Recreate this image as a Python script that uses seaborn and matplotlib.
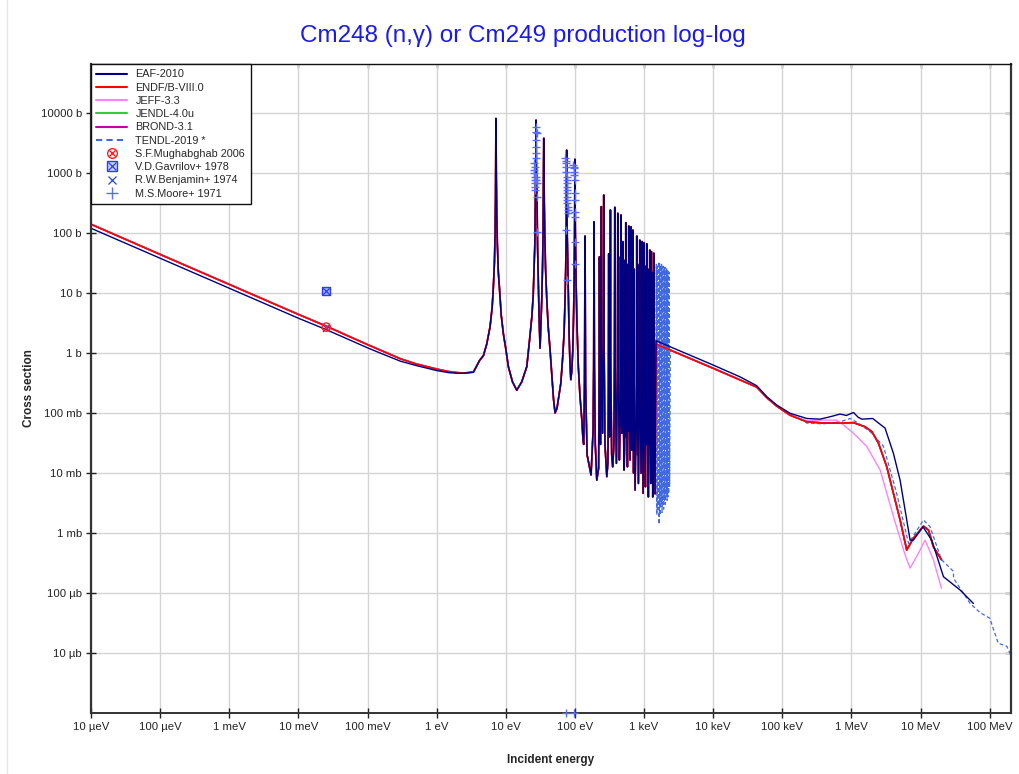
import matplotlib
matplotlib.use("Agg")
import numpy as np
import pandas as pd
import matplotlib.pyplot as plt
import seaborn as sns
from matplotlib.lines import Line2D
from matplotlib.ticker import FixedLocator, FixedFormatter, NullLocator

# ---------------- data (energy in eV, cross section in barns) ----------------
thermal_E = [1e-5, 1e-4, 1e-3, 1e-2, 0.0253, 0.1, 0.152, 0.3, 0.5, 1.0, 1.5, 2.0, 2.5]
eaf_thermal_xs = [120, 38, 12.0, 3.8, 2.45, 1.22, 1.0, 0.73, 0.62, 0.51, 0.47, 0.46, 0.46]
endf_thermal_xs = [140, 44, 13.9, 4.4, 2.8, 1.38, 1.12, 0.80, 0.66, 0.54, 0.49, 0.47, 0.465]

# resolved resonance region (common to the evaluations)
# first resonance (7.2 eV)
resA_E = [3.4, 4.2, 4.74, 5.3, 5.92, 6.35, 6.61, 6.85, 7.0, 7.1,
          7.16, 7.2, 7.24, 7.3, 7.4, 7.55, 7.8, 8.07, 8.6, 9.22,
          10.0, 10.9, 12.5, 14.4, 17.0]
resA_xs = [0.48, 0.76, 0.9, 1.41, 2.74, 5.8, 12.7, 32.6, 100, 400,
           2000, 8100, 3000, 800, 200, 65, 22, 12.7, 4.2, 2.1,
           1.17, 0.59, 0.33, 0.24, 0.33]
# 27.4 eV and 35.4 eV resonances
resB_E = [20.1, 22.0, 23.8, 24.9, 25.7, 26.3, 26.8, 27.1, 27.3, 27.4,
          27.5, 27.7, 28.3, 28.8, 29.6, 30.3, 31.3, 32.2, 33.1, 34.0,
          34.6, 35.0, 35.2, 35.4, 35.6, 36.0, 36.6, 37.6, 39.2, 41.0,
          43.7, 47.0, 49.0]
resB_xs = [0.59, 1.6, 4.0, 9.0, 27, 65, 355, 1200, 4000, 7600,
           4000, 1200, 355, 60, 14.5, 4.0, 1.2, 3.0, 7.6, 28,
           100, 600, 1500, 3800, 1500, 350, 100, 25, 7.6, 2.8,
           1.12, 0.35, 0.17]
# 76 eV and 100 eV resonances
resC_E = [51.6, 55.0, 58.5, 62.4, 66.5, 69.6, 72.0, 73.6, 74.8, 75.6,
          76.0, 76.4, 77.2, 78.9, 80.5, 82.3, 84.5, 87.1, 90.0, 93.1,
          95.5, 97.3, 98.8, 99.6, 100, 100.4, 101.5, 104, 107, 112,
          118, 126, 131]
resC_xs = [0.10, 0.12, 0.19, 0.31, 0.85, 2.1, 8.0, 27, 110, 600,
           2400, 600, 110, 27, 6.5, 2.1, 0.75, 0.36, 0.5, 1.12,
           4.0, 14.5, 90, 500, 1690, 500, 90, 14.5, 3.0, 0.59,
           0.2, 0.076, 0.035]
# dense resonances 140 eV - 1.4 keV
resD_E = [134, 137.5, 140, 142.5, 150, 171,
          183, 186.5, 189, 191.5, 197, 207,
          220, 223.5, 226, 228.5, 234,
          238.5, 241, 243.5, 250,
          258, 261, 264, 272, 289,
          300, 305, 308, 311, 318,
          323, 326, 329, 340, 352,
          366, 373, 377, 381, 398,
          412, 417, 422, 439,
          449, 452, 455, 458, 460,
          461, 465, 469, 481,
          488, 492, 496, 514,
          523, 525.5, 528, 530.5, 536,
          540, 544, 548, 574,
          581, 583, 585, 587, 594,
          597, 601, 605, 628,
          644, 649, 654, 670,
          682, 687, 692, 705,
          716, 718, 720, 722, 741,
          778, 784, 790, 806,
          808, 810, 812, 828,
          861, 867, 873, 905,
          930, 936, 942, 968,
          994, 1000, 1006, 1045,
          1055, 1058, 1061, 1064, 1070,
          1088, 1094, 1100, 1153,
          1172, 1177, 1180, 1183, 1190,
          1202, 1209, 1216, 1250,
          1269, 1276, 1283, 1300,
          1315, 1318, 1321, 1324, 1336,
          1374, 1382, 1390, 1440]
resD_xs = [0.03, 0.3, 89, 0.3, 0.02, 0.0093,
           0.05, 0.6, 154, 0.6, 0.03, 0.0076,
           0.012, 0.3, 40, 0.3, 0.03,
           1.0, 275, 1.0, 0.046,
           1.5, 430, 1.5, 0.03, 0.0087,
           0.015, 0.3, 45, 0.3, 0.04,
           0.8, 242, 0.8, 0.02, 0.0127,
           0.03, 0.7, 268, 0.7, 0.0145,
           0.6, 213, 0.6, 0.0165,
           0.05, 0.4, 40, 0.4, 0.06,
           0.5, 200, 0.5, 0.046,
           0.3, 72, 0.3, 0.0112,
           0.03, 0.3, 35, 0.3, 0.04,
           0.4, 149, 0.4, 0.0127,
           0.05, 0.3, 30, 0.3, 0.05,
           0.4, 131, 0.4, 0.0165,
           0.4, 127, 0.4, 0.024,
           0.35, 112, 0.35, 0.01,
           0.06, 0.3, 25, 0.3, 0.0052,
           0.3, 89, 0.3, 0.02,
           0.3, 30, 0.3, 0.0067,
           0.25, 76, 0.25, 0.0099,
           0.25, 72, 0.25, 0.0046,
           0.25, 69, 0.25, 0.0059,
           0.03, 0.25, 28, 0.25, 0.03,
           0.25, 66, 0.25, 0.004,
           0.03, 0.25, 25, 0.25, 0.03,
           0.2, 52, 0.2, 0.0067,
           0.2, 49, 0.2, 0.01,
           0.03, 0.2, 22, 0.2, 0.004,
           0.2, 46, 0.2, 0.0045]

# TENDL extends resonances further
tendl_res_E = [1500, 1530, 1560, 1590, 1620, 1649, 1680, 1706, 1735, 1760, 1790, 1820, 1841,
               1865, 1890, 1918, 1946, 1975, 2000, 2030, 2061, 2090, 2120, 2150, 2177, 2210,
               2240, 2270, 2301, 2340]
tendl_res_xs = [30, 0.002, 28, 0.0025, 33, 0.0014, 31, 0.002, 29, 0.003, 30, 0.0022, 27,
                0.003, 28, 0.0025, 26, 0.0035, 27, 0.003, 25, 0.004, 26, 0.0035, 24, 0.004,
                23, 0.0045, 22, 0.006]

# fast region
eaf_fast_E = [1490, 1e4, 2.45e4, 4.26e4, 5.96e4, 8.3e4, 1.29e5, 2.26e5, 3.52e5, 4.9e5, 6.84e5,
              8.46e5, 1.07e6, 1.25e6, 1.41e6, 2.03e6, 3.06e6, 4.04e6, 5.05e6, 5.97e6, 7.05e6,
              7.87e6, 1.08e7, 1.45e7, 2.14e7, 3.73e7, 5.8e7]
eaf_fast_xs = [1.6, 0.63, 0.40, 0.285, 0.187, 0.136, 0.099, 0.081, 0.079, 0.0865, 0.096,
               0.091, 0.102, 0.085, 0.079, 0.081, 0.056, 0.0213, 0.0076, 0.0024, 7.6e-4,
               7.6e-4, 1.27e-3, 7.6e-4, 1.87e-4, 1.12e-4, 6.7e-5]

endf_fast_E = [1490, 1e4, 2.45e4, 4.26e4, 5.96e4, 8.3e4, 1.29e5, 2.26e5, 3.93e5, 7.0e5, 1.07e6,
               1.57e6, 1.97e6, 2.45e6, 3.24e6, 4.04e6, 5.05e6, 6.3e6, 7.87e6, 1.1e7, 1.3e7,
               1.53e7, 2.0e7]
endf_fast_xs = [1.41, 0.556, 0.355, 0.27, 0.18, 0.13, 0.092, 0.0716, 0.068, 0.068, 0.069,
                0.059, 0.049, 0.0317, 0.0127, 4.6e-3, 1.65e-3, 5.2e-4, 8.2e-4, 1.3e-3, 1.12e-3,
                5.9e-4, 3.6e-4]

jeff_fast_E = [1490, 1e4, 2.45e4, 4.26e4, 5.96e4, 8.3e4, 1.29e5, 2.26e5, 3.93e5, 6.12e5, 7.64e5,
               1.07e6, 1.66e6, 2.6e6, 4.04e6, 5.97e6, 7.05e6, 9.3e6, 1.16e7, 1.53e7, 2.0e7]
jeff_fast_xs = [1.41, 0.556, 0.355, 0.27, 0.18, 0.13, 0.092, 0.074, 0.076, 0.076, 0.0635,
                0.046, 0.0278, 0.0112, 1.9e-3, 4.3e-4, 2.6e-4, 4.6e-4, 7.6e-4, 3.6e-4, 1.2e-4]

tendl_fast_E = [2400, 1e4, 2.45e4, 4.26e4, 8.3e4, 2.26e5, 3.93e5, 7.0e5, 9.55e5, 1.2e6, 1.86e6,
                2.9e6, 4.5e6, 6.7e6, 1.1e7, 1.37e7, 2.0e7, 2.98e7, 3.0e7, 5.2e7, 7.26e7, 1.0e8,
                1.33e8, 1.76e8, 2.0e8]
tendl_fast_xs = [1.12, 0.556, 0.355, 0.27, 0.13, 0.068, 0.066, 0.072, 0.081, 0.07, 0.049,
                 0.028, 4.6e-3, 6.7e-4, 1.65e-3, 1.27e-3, 3.6e-4, 2.3e-4, 1.75e-4, 6.7e-5,
                 4.7e-5, 3.8e-5, 1.45e-5, 1.3e-5, 9.5e-6]

# experimental points
mughabghab_E = [0.0253]
mughabghab_xs = [2.7]
gavrilov_E = [0.0253]
gavrilov_xs = [10.8]
benjamin_E = [0.0253]
benjamin_xs = [2.6]
moore_E = [25.2, 25.6, 25.9, 26.1, 26.3, 26.5, 26.6, 26.7, 26.8, 26.9, 27.0, 27.1, 27.2, 27.3,
           27.4, 27.5, 27.6, 27.8, 28.0, 28.2, 28.6,
           72.6, 73.5, 74.2, 74.8, 75.2, 75.6, 75.9, 76.1, 76.3, 76.6, 76.9, 77.2, 77.6,
           78.0, 78.6, 79.4, 80.0, 75.0, 76.0,
           94.0, 95.5, 96.5, 97.3, 98.0, 98.6, 99.2, 99.7, 100.2, 100.8, 101.5, 99.0,
           73.7, 97.2]
moore_xs = [1450, 1120, 990, 870, 760, 670, 590, 520, 1280, 870, 760, 1750, 2130, 2750,
            3550, 4880, 5900, 4580, 670, 400, 103,
            1750, 1580, 1450, 1280, 1050, 870, 760, 670, 590, 520, 460, 400, 355,
            312, 275, 242, 213, 112, 16.5,
            1360, 1280, 1200, 1050, 930, 760, 460, 355, 227, 187, 72, 31,
            1e-6, 1e-6]

# tick labels
x_ticks = [1e-5, 1e-4, 1e-3, 1e-2, 1e-1, 1e0, 1e1, 1e2, 1e3, 1e4, 1e5, 1e6, 1e7, 1e8]
x_labels = ['10 µeV', '100 µeV', '1 meV', '10 meV', '100 meV', '1 eV', '10 eV', '100 eV',
            '1 keV', '10 keV', '100 keV', '1 MeV', '10 MeV', '100 MeV']
y_ticks = [1e-5, 1e-4, 1e-3, 1e-2, 1e-1, 1e0, 1e1, 1e2, 1e3, 1e4]
y_labels = ['10 µb', '100 µb', '1 mb', '10 mb', '100 mb', '1 b', '10 b', '100 b',
            '1000 b', '10000 b']

# ---------------- assemble curves ----------------
res_E = resA_E + resB_E + resC_E + resD_E
res_xs = resA_xs + resB_xs + resC_xs + resD_xs
assert len(res_E) == len(res_xs)


def curve(name, tE, txs, fE, fxs, extraE=(), extraxs=()):
    E = list(tE) + list(res_E) + list(extraE) + list(fE)
    xs = list(txs) + list(res_xs) + list(extraxs) + list(fxs)
    return pd.DataFrame({"E": E, "xs": xs, "lib": name})


curves = {
    "JENDL-4.0u": curve("JENDL-4.0u", thermal_E, endf_thermal_xs, endf_fast_E, endf_fast_xs),
    "BROND-3.1": curve("BROND-3.1", thermal_E, endf_thermal_xs, endf_fast_E, endf_fast_xs),
    "TENDL-2019 *": curve("TENDL-2019 *", thermal_E, endf_thermal_xs, tendl_fast_E, tendl_fast_xs,
                          tendl_res_E, tendl_res_xs),
    "JEFF-3.3": curve("JEFF-3.3", thermal_E, endf_thermal_xs, jeff_fast_E, jeff_fast_xs),
    "ENDF/B-VIII.0": curve("ENDF/B-VIII.0", thermal_E, endf_thermal_xs, endf_fast_E, endf_fast_xs),
    "EAF-2010": curve("EAF-2010", thermal_E, eaf_thermal_xs, eaf_fast_E, eaf_fast_xs),
}
styles = {
    "JENDL-4.0u": dict(color="#33cc33", lw=1.2, z=2.0, ls="-"),
    "BROND-3.1": dict(color="#cc0099", lw=1.2, z=2.1, ls="-"),
    "TENDL-2019 *": dict(color="#4169e1", lw=0.9, z=2.15, ls=(0, (3, 2))),
    "JEFF-3.3": dict(color="#ff80ff", lw=1.0, z=2.2, ls="-"),
    "ENDF/B-VIII.0": dict(color="#ff0000", lw=1.2, z=2.3, ls="-"),
    "EAF-2010": dict(color="#000080", lw=1.0, z=2.5, ls="-"),
}

# ---------------- plot ----------------
sns.set_theme(style="white")
plt.rcParams['font.family'] = ['Liberation Sans', 'DejaVu Sans']

fig = plt.figure(figsize=(10.2, 7.74), dpi=100)
ax = fig.add_axes([91 / 1020, 1 - 713 / 774, (1011 - 91) / 1020, (713 - 64) / 774])
ax.set_xscale('log')
ax.set_yscale('log')

for name, df in curves.items():
    st = styles[name]
    sns.lineplot(data=df, x="E", y="xs", ax=ax, color=st["color"], linewidth=st["lw"],
                 linestyle=st["ls"], estimator=None, sort=False, legend=False, zorder=st["z"])

moore_c = "#5a6cff"
sns.scatterplot(x=moore_E, y=moore_xs, ax=ax, marker='+', s=30, color=moore_c, linewidth=1.0,
                zorder=3, clip_on=False, legend=False)
sns.scatterplot(x=benjamin_E, y=benjamin_xs, ax=ax, marker='x', s=25, color="#2040ff",
                linewidth=1.0, zorder=3, legend=False)
ax.scatter(gavrilov_E, gavrilov_xs, marker='s', s=36, facecolor="#a8b4ff", edgecolor="#2a3cff",
           linewidth=1.0, zorder=3.1)
ax.scatter(gavrilov_E, gavrilov_xs, marker='x', s=22, color="#2a3cff", linewidth=0.9, zorder=3.2)
ax.scatter(mughabghab_E, mughabghab_xs, marker='o', s=36, facecolor="none", edgecolor="#ff2020",
           linewidth=1.0, zorder=3.3)
ax.scatter(mughabghab_E, mughabghab_xs, marker='x', s=18, color="#ff2020", linewidth=0.9,
           zorder=3.4)

ax.set_xlim(1e-5, 2.03e8)
ax.set_ylim(1e-6, 6.56e4)

ax.xaxis.set_major_locator(FixedLocator(x_ticks))
ax.xaxis.set_major_formatter(FixedFormatter(x_labels))
ax.yaxis.set_major_locator(FixedLocator(y_ticks))
ax.yaxis.set_major_formatter(FixedFormatter(y_labels))
ax.xaxis.set_minor_locator(NullLocator())
ax.yaxis.set_minor_locator(NullLocator())

ax.grid(True, which='major', color='#d4d4d4', linewidth=1.0)
ax.set_axisbelow(True)
ax.tick_params(axis='both', which='major', direction='inout', length=7, width=1.0,
               color='#222222', labelsize=8.2, labelcolor='#222222', pad=3,
               bottom=True, left=True, top=False, right=False)

for side, lw, col in [('left', 1.6, '#333333'), ('bottom', 1.4, '#333333'),
                      ('top', 1.0, '#111111'), ('right', 1.6, '#333333')]:
    ax.spines[side].set_linewidth(lw)
    ax.spines[side].set_color(col)
    ax.spines[side].set_visible(True)

secx = ax.secondary_xaxis('top')
secx.xaxis.set_major_locator(FixedLocator(x_ticks))
secx.xaxis.set_minor_locator(NullLocator())
secx.tick_params(direction='in', length=3, width=1.0, color='#222222', labeltop=False)
secx.spines['top'].set_visible(False)
secy = ax.secondary_yaxis('right')
secy.yaxis.set_major_locator(FixedLocator(y_ticks))
secy.yaxis.set_minor_locator(NullLocator())
secy.tick_params(direction='in', length=4, width=1.0, color='#222222', labelright=False)
secy.spines['right'].set_visible(False)

ax.set_xlabel("Incident energy", fontsize=8.5, fontweight='bold', labelpad=16)
ax.set_ylabel("Cross section", fontsize=8.5, fontweight='bold', labelpad=4)
fig.text(523 / 1020, 1 - 36 / 774, "Cm248 (n,γ) or Cm249 production log-log", ha='center',
         va='center', fontsize=17.5, color='#1a1aee')

# legend
handles = [
    Line2D([], [], color="#000080", lw=1.5),
    Line2D([], [], color="#ff0000", lw=1.5),
    Line2D([], [], color="#ff80ff", lw=1.5),
    Line2D([], [], color="#33cc33", lw=1.5),
    Line2D([], [], color="#cc0099", lw=1.5),
    Line2D([], [], color="#4169e1", lw=1.5, ls=(0, (3, 2))),
    (Line2D([], [], ls='none', marker='o', ms=7, mfc='none', mec="#ff2020", mew=1.0),
     Line2D([], [], ls='none', marker='x', ms=4.5, color="#ff2020", mew=1.0)),
    (Line2D([], [], ls='none', marker='s', ms=7, mfc="#c8d0ff", mec="#2a3cff", mew=1.0),
     Line2D([], [], ls='none', marker='x', ms=6, color="#2a3cff", mew=0.9)),
    Line2D([], [], ls='none', marker='x', ms=6, color="#2040ff", mew=0.9),
    Line2D([], [], ls='none', marker='+', ms=9, color=moore_c, mew=1.0),
]
labels = ["EAF-2010", "ENDF/B-VIII.0", "JEFF-3.3", "JENDL-4.0u", "BROND-3.1", "TENDL-2019 *",
          "S.F.Mughabghab 2006", "V.D.Gavrilov+ 1978", "R.W.Benjamin+ 1974", "M.S.Moore+ 1971"]
leg = ax.legend(handles, labels, loc='upper left', bbox_to_anchor=(0, 1), borderaxespad=0,
                fontsize=7.8, frameon=True, fancybox=False, edgecolor='#111111',
                framealpha=1, handlelength=2.8, handletextpad=0.8, labelspacing=0.3,
                borderpad=0.5)
leg.get_frame().set_linewidth(1.0)
leg.set_zorder(10)

fig.add_artist(Line2D([7 / 1020, 7 / 1020], [0, 1], transform=fig.transFigure,
                      color='#e6e6e6', lw=1.0))

fig.savefig("out.png", dpi=100)
